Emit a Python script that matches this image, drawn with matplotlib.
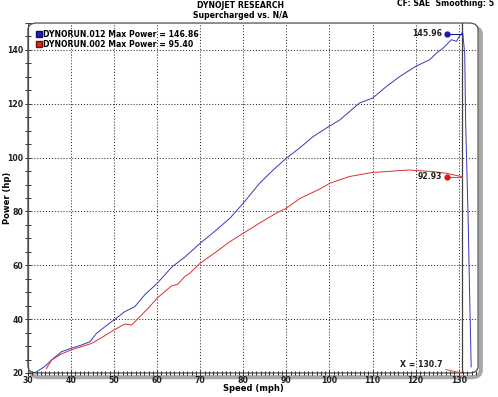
import matplotlib
matplotlib.use('Agg')
import matplotlib.pyplot as plt
import matplotlib.ticker as ticker
from matplotlib.patches import FancyBboxPatch
from matplotlib.lines import Line2D

# run 012 - supercharged
sc_speed = [31.6, 33.9, 35.5, 37.8, 40.1, 42.1, 44.4, 45.9, 47.9, 50.0, 52.5, 54.8, 57.1, 60.0,
            63.5, 66.4, 70.0, 73.8, 76.9, 80.0, 83.8, 87.0, 90.0, 93.1, 96.2, 99.3, 102.4,
            107.0, 110.0, 113.2, 116.3, 120.0, 123.3, 124.8, 126.4, 128.3, 129.5, 130.1,
            130.7, 130.9, 131.4, 131.6, 132.2, 132.5, 132.9]
sc_power = [20.0, 22.4, 24.8, 27.9, 29.2, 30.2, 31.6, 34.7, 37.2, 39.7, 42.8, 44.6, 49.0, 53.3,
            59.5, 63.0, 68.2, 73.2, 77.5, 83.1, 90.5, 95.5, 99.8, 103.6, 107.8, 111.0, 114.0,
            120.3, 122.1, 126.4, 130.1, 133.9, 136.4, 138.8, 140.7, 143.8, 143.2, 145.0,
            145.96, 146.86, 138.8, 114.0, 76.9, 52.1, 22.3]

# run 002 - N/A
na_speed = [34.3, 35.5, 37.8, 40.1, 42.5, 44.8, 47.5, 50.0, 52.5, 54.1, 55.6, 57.9, 60.0, 63.3,
            64.8, 66.4, 67.6, 70.0, 73.8, 76.9, 80.0, 83.8, 87.7, 90.0, 93.1, 97.7, 100.1,
            104.7, 110.0, 113.2, 116.3, 118.5, 120.2, 124.0, 127.1, 130.7]
na_power = [21.7, 24.8, 27.1, 28.6, 29.8, 31.0, 33.5, 36.0, 38.2, 37.8, 40.3, 44.0, 47.8, 52.3,
            53.0, 55.8, 57.1, 60.8, 65.1, 68.8, 71.9, 75.7, 79.4, 81.2, 84.8, 88.3, 90.5,
            93.0, 94.5, 94.8, 95.2, 95.4, 95.2, 94.8, 94.2, 92.93]

run_names = ['DYNORUN.012', 'DYNORUN.002']
max_power = [146.86, 95.40]
cursor_x = 130.7
cursor_vals = [145.96, 92.93]

blue = '#3838b8'
red = '#d83030'
font = 'DejaVu Sans'
fs = 5.6

fig = plt.figure(figsize=(4.98, 3.97), dpi=100)
ax = fig.add_axes([0.056, 0.0605, 0.904, 0.8815])
ax.set_xlim(30, 134.5)
ax.set_ylim(20, 150)
for s in ax.spines.values():
    s.set_visible(False)

# rounded frame with shadow
shadow = FancyBboxPatch((0.006, -0.012), 1.0, 1.0, boxstyle='round,pad=0,rounding_size=0.02',
                        transform=ax.transAxes, facecolor='none', edgecolor='#a8a8a8',
                        lw=3, clip_on=False, zorder=0)
ax.add_patch(shadow)
frame = FancyBboxPatch((0, 0), 1.0, 1.0, boxstyle='round,pad=0,rounding_size=0.02',
                       transform=ax.transAxes, facecolor='white', edgecolor='#505050',
                       lw=0.9, clip_on=False, zorder=0.5)
ax.add_patch(frame)
ax.patch.set_visible(False)
ax.axvline(30, color='#505050', lw=0.9)
ax.axhline(20, color='#505050', lw=0.9)

ax.xaxis.set_major_locator(ticker.MultipleLocator(10))
ax.xaxis.set_minor_locator(ticker.MultipleLocator(1))
ax.yaxis.set_major_locator(ticker.MultipleLocator(20))
ax.yaxis.set_minor_locator(ticker.MultipleLocator(5))
ax.tick_params(axis='both', which='both', direction='inout', colors='#303030', width=0.7,
               labelsize=fs, pad=1)
ax.tick_params(axis='x', which='both', pad=0)
ax.tick_params(axis='y', which='major', length=5)
ax.tick_params(axis='y', which='minor', length=4)
ax.tick_params(axis='x', which='major', length=4)
ax.tick_params(axis='x', which='minor', length=2.5)
for lab in ax.get_xticklabels() + ax.get_yticklabels():
    lab.set_fontweight('bold')
    lab.set_color('#202020')

ax.grid(True, which='major', color='#303030', linestyle=(0, (1, 1.8)), lw=0.75)
ax.set_axisbelow(True)

ax.plot(sc_speed, sc_power, color=blue, lw=0.7, zorder=3)
ax.plot(na_speed, na_power, color=red, lw=0.7, zorder=3)

# cursor line
ax.axvline(cursor_x, color='#404040', lw=0.9, zorder=2)
ax.annotate('X = %.1f' % cursor_x, xy=(cursor_x, 20), xytext=(126.3, 23.2),
            fontsize=fs, fontweight='bold', ha='right', va='center', color='#202020',
            arrowprops=dict(arrowstyle='-', color='#c05050', lw=0.7, shrinkA=0, shrinkB=0))

# cursor values
dot_x = 127.4
for val, col, lcol in zip(cursor_vals, ['#1a1ab0', '#d02020'], ['#1a1a90', '#6a6ab0']):
    ax.plot([dot_x, cursor_x], [val, val], color=lcol, lw=0.8, zorder=4)
    ax.plot(dot_x, val, 'o', ms=3.5, color=col, zorder=5)
    ax.text(dot_x - 1.2, val, '%.2f' % val, fontsize=fs, fontweight='bold',
            ha='right', va='center', color='#202020')

# legend
handles = [Line2D([], [], ls='none', marker='s', ms=4.5, mfc='#2020c0', mec='#101060'),
           Line2D([], [], ls='none', marker='s', ms=4.5, mfc='#e02828', mec='#701010')]
labels = ['%s Max Power = %.2f' % (n, p) for n, p in zip(run_names, max_power)]
ax.legend(handles, labels, loc='upper left', bbox_to_anchor=(0.012, 0.985), frameon=False,
          prop=dict(family=font, size=fs, weight='bold'), handletextpad=0.1,
          handlelength=1.0, labelspacing=0.15, borderpad=0.2, borderaxespad=0)

ax.set_xlabel('Speed (mph)', fontsize=fs + 0.4, fontweight='bold')
ax.set_ylabel('Power (hp)', fontsize=fs + 0.4, fontweight='bold')
ax.xaxis.set_label_coords(0.5, -0.045)
ax.xaxis.label.set_va('center')
ax.yaxis.set_label_coords(-0.045, 0.5)
ax.yaxis.label.set_va('center')

fig.text(0.482, 0.987, 'DYNOJET RESEARCH', fontsize=fs, fontweight='bold', ha='center', va='center')
fig.text(0.482, 0.962, 'Supercharged vs. N/A', fontsize=fs, fontweight='bold', ha='center', va='center')
fig.text(0.993, 0.99, 'CF: SAE  Smoothing: 5', fontsize=fs, fontweight='bold', ha='right', va='center')

fig.savefig('out.png', dpi=100)
